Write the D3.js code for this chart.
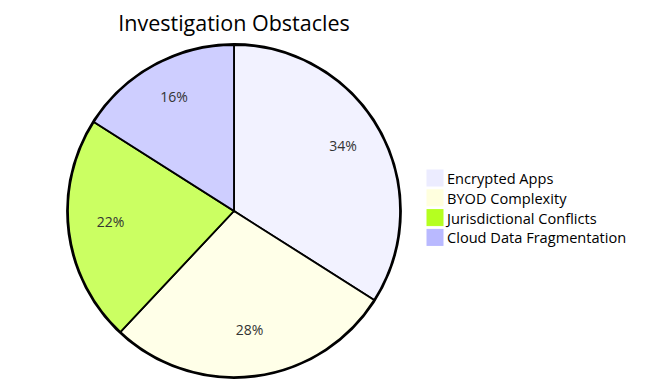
<!DOCTYPE html>
<html>
<head>
<meta charset="utf-8">
<script src="https://cdn.jsdelivr.net/npm/d3@7"></script>
<style>
  body { margin: 0; background: #fff; }
  text { font-family: "Trebuchet MS", "Open Sans", sans-serif; }
</style>
</head>
<body>
<div id="chart"></div>
<script>
var svgWidth = 657;
var svgHeight = 388;

// chart data
var title = "Investigation Obstacles";
var labels = ["Encrypted Apps", "BYOD Complexity", "Jurisdictional Conflicts", "Cloud Data Fragmentation"];
var values = [34, 28, 22, 16];
var colors = ["#ECECFF", "#ffffde", "#b5ff20", "#b9b9ff"];

var cx = 234;
var cy = 211;
var radius = 166;

var svg = d3.select("#chart")
  .append("svg")
  .attr("width", svgWidth)
  .attr("height", svgHeight);

var data = labels.map(function(l, i) {
  return { label: l, value: values[i], color: colors[i] };
});

var total = d3.sum(values);

var pie = d3.pie()
  .value(d => d.value)
  .sort(null);

var arc = d3.arc()
  .innerRadius(0)
  .outerRadius(radius);

// labels sit at 3/4 of the radius
var labelArc = d3.arc()
  .innerRadius(radius * 0.75)
  .outerRadius(radius * 0.75);

var pieGroup = svg.append("g")
  .attr("transform", `translate(${cx}, ${cy})`);

// outer ring
pieGroup.append("circle")
  .attr("r", radius + 1)
  .attr("fill", "none")
  .attr("stroke", "black")
  .attr("stroke-width", 1.8);

// slices
pieGroup.selectAll("path")
  .data(pie(data))
  .enter()
  .append("path")
  .attr("d", arc)
  .attr("fill", d => d.data.color)
  .attr("fill-opacity", 0.7)
  .attr("stroke", "black")
  .attr("stroke-width", 1.8);

// percentage labels
pieGroup.selectAll("text")
  .data(pie(data))
  .enter()
  .append("text")
  .attr("transform", d => `translate(${labelArc.centroid(d)})`)
  .attr("text-anchor", "middle")
  .style("font-size", "14px")
  .style("fill", "#333")
  .text(d => Math.round(d.data.value / total * 100) + "%");

// title
svg.append("text")
  .attr("x", cx)
  .attr("y", 31)
  .attr("text-anchor", "middle")
  .style("font-size", "21.5px")
  .style("fill", "#000")
  .text(title);

// legend
var legend = svg.selectAll(".legend")
  .data(data)
  .enter()
  .append("g")
  .attr("class", "legend")
  .attr("transform", (d, i) => `translate(427, ${170 + i * 19.8})`);

legend.append("rect")
  .attr("width", 16)
  .attr("height", 16)
  .style("fill", d => d.color)
  .style("stroke", d => d.color);

legend.append("text")
  .attr("x", 20)
  .attr("y", 14)
  .style("font-size", "14.6px")
  .style("fill", "#000")
  .text(d => d.label);
</script>
</body>
</html>
